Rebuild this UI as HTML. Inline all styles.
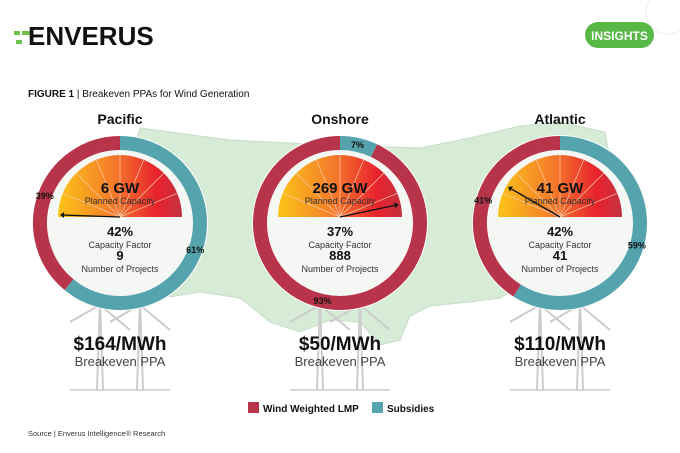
<!DOCTYPE html>
<html><head><meta charset="utf-8"><style>
body{margin:0;width:680px;height:453px;overflow:hidden;background:#fff;font-family:"Liberation Sans",sans-serif}
svg{position:absolute;left:0;top:0}
</style></head><body>
<svg id="chart" width="680" height="453" viewBox="0 0 680 453">
<defs>
<linearGradient id="gg" x1="0" x2="1" y1="0" y2="0"><stop offset="0" stop-color="#fcc419"/><stop offset="0.45" stop-color="#f47a2a"/><stop offset="0.8" stop-color="#e8232e"/><stop offset="1" stop-color="#c4303f"/></linearGradient>
</defs>
<g>
<rect x="14" y="31" width="6" height="4" fill="#6cc24a"/><rect x="22" y="31" width="10" height="4" fill="#6cc24a"/><rect x="16" y="40" width="6" height="4" fill="#6cc24a"/>
<text x="28" y="45" font-size="26" font-weight="bold" fill="#111">ENVERUS</text>
</g>
<g>
<rect x="585" y="22" width="69" height="26" rx="13" fill="#58b947"/>
<text x="619.5" y="40" font-size="12" font-weight="bold" fill="#fff" text-anchor="middle">INSIGHTS</text>
</g>
<circle cx="668" cy="12" r="22" fill="none" stroke="#eee"/>
<text x="28" y="97" font-size="10" fill="#111"><tspan font-weight="bold">FIGURE 1</tspan> | Breakeven PPAs for Wind Generation</text>
<path d="M140,128 L230,140 L330,145 L420,148 L470,138 L520,126 L560,122 L605,132 L610,160 L590,190 L575,215 L560,240 L540,265 L520,285 L500,298 L470,302 L430,306 L410,316 L400,340 L380,345 L360,322 L330,320 L300,332 L270,322 L240,298 L200,292 L170,297 L140,278 L120,240 L115,200 Z" fill="#d6ecd6" stroke="#c9dcc9"/>
<g id="donuts"></g>
<g>
<rect x="248" y="402" width="11" height="11" fill="#b8344a"/>
<text x="263" y="412" font-size="10" font-weight="bold" fill="#111">Wind Weighted LMP</text>
<rect x="372" y="402" width="11" height="11" fill="#54a3ad"/>
<text x="387" y="412" font-size="10" font-weight="bold" fill="#111">Subsidies</text>
</g>
<text x="28" y="436" font-size="7.5" fill="#333">Source | Enverus Intelligence® Research</text>
</svg>
<script>
const regions=["Pacific","Onshore","Atlantic"];
const lmpShare=[39,93,41];
const subsidyShare=[61,7,59];
const capacityGW=[6,269,41];
const capacityFactor=[42,37,42];
const projects=[9,888,41];
const ppa=[164,50,110];
const needleAngle=[178,12,150];
const cxs=[120,340,560];
const NS="http://www.w3.org/2000/svg";
const root=document.getElementById('donuts');
function mk(tag,attrs,parent){const e=document.createElementNS(NS,tag);for(const k in attrs)e.setAttribute(k,attrs[k]);parent.appendChild(e);return e;}
function pt(cx,cy,r,deg){const a=(deg-90)*Math.PI/180;return [cx+r*Math.cos(a),cy+r*Math.sin(a)];}
function arc(cx,cy,r,a0,a1){const p0=pt(cx,cy,r,a0),p1=pt(cx,cy,r,a1);const large=(a1-a0)>180?1:0;return `M${p0[0]},${p0[1]} A${r},${r} 0 ${large} 1 ${p1[0]},${p1[1]}`;}
regions.forEach((name,i)=>{
  const cx=cxs[i],cy=223,R=80;
  const g=mk('g',{},root);
  
  
  [-20,20].forEach(dx=>{mk('line',{x1:cx+dx-3,y1:390,x2:cx+dx,y2:300,stroke:'#ccc','stroke-width':2},g);mk('line',{x1:cx+dx+3,y1:390,x2:cx+dx,y2:300,stroke:'#ccc','stroke-width':2},g);
    mk('line',{x1:cx+dx,y1:305,x2:cx+dx-30,y2:322,stroke:'#ccc','stroke-width':2},g);mk('line',{x1:cx+dx,y1:305,x2:cx+dx+30,y2:330,stroke:'#ccc','stroke-width':2},g);});
  mk('line',{x1:cx-50,y1:390,x2:cx+50,y2:390,stroke:'#ccc','stroke-width':1.5},g);
  mk('circle',{cx,cy,r:88,fill:'#fff'},g);
  mk('circle',{cx,cy,r:73,fill:'#f4f7f3'},g);
  const sub=subsidyShare[i]*3.6;
  const s=mk('path',{d:arc(cx,cy,R,0.0001,sub),fill:'none',stroke:'#54a3ad','stroke-width':14},g);
  
  
  const l=mk('path',{d:arc(cx,cy,R,sub,360),fill:'none',stroke:'#b8344a','stroke-width':14},g);
  
  
  const gy=217,gr=62;
  const ga=mk('path',{d:`M${cx-gr},${gy} A${gr},${gr} 0 0 1 ${cx+gr},${gy} Z`,fill:'url(#gg)'},g);
  
  
  for(let k=1;k<8;k++){const a=Math.PI*k/8;mk('line',{x1:cx,y1:gy,x2:cx-gr*Math.cos(a),y2:gy-gr*Math.sin(a),stroke:'#f6c9a8','stroke-width':0.7},g);}
  const na=needleAngle[i]*Math.PI/180;
  const nx=cx+56*Math.cos(na),ny=gy-56*Math.sin(na);
  const nd=mk('line',{x1:cx,y1:gy,x2:nx,y2:ny,stroke:'#111','stroke-width':1.3},g);
  
  
  const ux=Math.cos(na),uy=-Math.sin(na);
  mk('polygon',{points:`${nx+ux*4},${ny+uy*4} ${nx-uy*3},${ny+ux*3} ${nx+uy*3},${ny-ux*3}`,fill:'#111'},g);
  const t=(x,y,txt,size,w,fill,nm,anchor)=>{const e=mk('text',{x,y,'font-size':size,'font-weight':w,fill,'text-anchor':anchor||'middle'},g);e.textContent=txt;return e;};
  t(cx,124,name,14,'bold','#111','region-title-'+name.toLowerCase());
  t(cx,193,capacityGW[i]+' GW',15,'bold','#111','capacity-value');
  t(cx,204,'Planned Capacity',9,'normal','#333','capacity-label');
  t(cx,236,capacityFactor[i]+'%',13,'bold','#111','capacity-factor-value');
  t(cx,248,'Capacity Factor',9,'normal','#333','capacity-factor-label');
  t(cx,260,String(projects[i]),13,'bold','#111','projects-value');
  t(cx,272,'Number of Projects',9,'normal','#333','projects-label');
  const lm=pt(cx,cy,R,sub+(360-sub)/2), sm=pt(cx,cy,R,sub/2);
  t(lm[0],lm[1]+3,lmpShare[i]+'%',9,'bold','#111','lmp-pct-label');
  t(sm[0],sm[1]+3,subsidyShare[i]+'%',9,'bold','#111','subsidy-pct-label');
  t(cx,350,'$'+ppa[i]+'/MWh',19,'bold','#111','ppa-value');
  t(cx,366,'Breakeven PPA',13,'normal','#444','ppa-label');
});
</script>
</body></html>
